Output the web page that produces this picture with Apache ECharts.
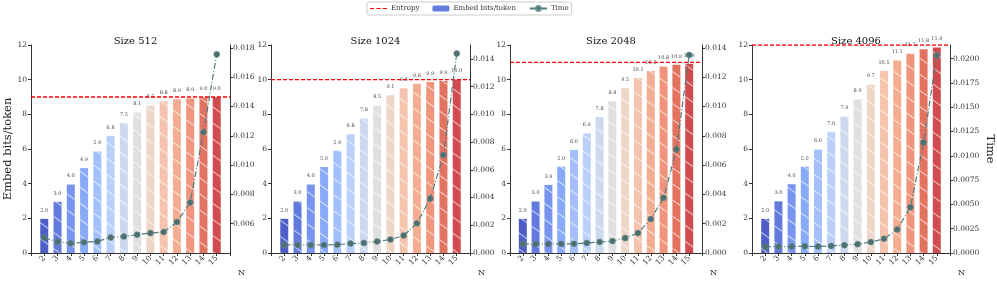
<!DOCTYPE html>
<html><head><meta charset="utf-8">
<script src="https://cdn.jsdelivr.net/npm/echarts@6/dist/echarts.min.js"></script>
<style>html,body{margin:0;padding:0;background:#fff}#c{width:997px;height:283px}</style>
</head><body><div id="c"></div>
<script>
const N = [2,3,4,5,6,7,8,9,10,11,12,13,14,15];
const titles = ['Size 512','Size 1024','Size 2048','Size 4096'];
const entropy = [9, 10, 11, 12];
const bits512  = [1.97,2.95,3.95,4.90,5.86,6.76,7.50,8.10,8.50,8.76,8.87,8.92,8.97,8.99];
const bits1024 = [1.97,2.97,3.95,4.96,5.90,6.85,7.76,8.50,9.10,9.50,9.76,9.87,9.93,10.0];
const bits2048 = [1.97,2.97,3.93,4.97,5.95,6.90,7.85,8.76,9.50,10.10,10.50,10.76,10.86,10.92];
const bits4096 = [1.97,2.98,3.97,4.97,5.96,6.96,7.88,8.86,9.71,10.50,11.10,11.50,11.76,11.86];
const time512  = [0.00504,0.00477,0.00466,0.00474,0.00479,0.00506,0.00513,0.00525,0.00536,0.00543,0.00611,0.00745,0.01225,0.01756];
const time1024 = [0.00058,0.00058,0.00058,0.00058,0.00060,0.00068,0.00073,0.00083,0.00097,0.00126,0.00214,0.00392,0.00706,0.01438];
const time2048 = [0.00061,0.00061,0.00061,0.00062,0.00063,0.00068,0.00075,0.00082,0.00102,0.00136,0.00232,0.00377,0.00707,0.01352];
const time4096 = [0.00063,0.00066,0.00066,0.00070,0.00066,0.00073,0.00080,0.00091,0.00112,0.00146,0.00243,0.00470,0.01137,0.02035];
const timeTicks = [
  {min:0.004, max:0.0182, interval:0.002, dec:3, showMin:false},
  {min:0, max:0.015, interval:0.002, dec:3, showMin:true},
  {min:0, max:0.0142, interval:0.002, dec:3, showMin:true},
  {min:0, max:0.0214, interval:0.0025, dec:4, showMin:true}
];
const bits = [bits512, bits1024, bits2048, bits4096];
const times = [time512, time1024, time2048, time4096];

const colors = ['#3b4cc0','#516bd8','#6889ed','#7ca1f8','#99b9fd','#b2cbfa','#c8d5ed','#dddddd','#ebd2c2','#f5bda4','#f4a485','#ee886e','#e06450','#cc383c'];
const grids = [
  {left:31, width:199},
  {left:271, width:199},
  {left:510, width:192},
  {left:752, width:198}
];
const FONT = 'DejaVu Serif';
const axisCol = '#333';
const hatch = {symbol:'rect', symbolSize:1, dashArrayX:[[1,0]], dashArrayY:[1,12], rotation:Math.PI/5, color:'rgba(255,255,255,0.75)'};

const option = {
  animation:false,
  textStyle:{fontFamily:FONT},
  legend:{
    top:2, left:367, orient:'horizontal',
    borderColor:'#ccc', borderWidth:1, borderRadius:2, padding:[3,3],
    itemGap:13, itemWidth:17, itemHeight:6,
    textStyle:{fontFamily:FONT, fontSize:7, color:'#333', padding:[0,0,0,-1]},
    data:[{name:'Entropy', icon:'path://M0,0L4,0L4,1L0,1ZM6,0L10,0L10,1L6,1ZM12,0L16,0L16,1L12,1Z', itemStyle:{color:'#ff0000'}},{name:'Embed bits/token'},{name:'Time'}]
  },
  title: titles.map((t,i)=>({
    text:t, left:grids[i].left+grids[i].width/2, top:31, textAlign:'center',
    textStyle:{fontFamily:FONT, fontSize:10, fontWeight:'normal', color:'#111'}
  })),
  grid: grids.map(g=>({left:g.left, width:g.width, top:45, height:208})),
  xAxis: grids.map((g,i)=>({
    type:'value', gridIndex:i, min:1, max:16, interval:1,
    name:'N', nameLocation:'end', nameGap:8,
    nameTextStyle:{fontFamily:FONT, fontSize:8, color:'#222', verticalAlign:'top', padding:[16,0,0,0]},
    axisLine:{show:true, lineStyle:{color:axisCol, width:1}},
    axisTick:{show:true, length:3, lineStyle:{color:axisCol}},
    splitLine:{show:false},
    axisLabel:{rotate:45, fontSize:7.5, color:'#333', margin:4,
      formatter:v=> (v>=2 && v<=15) ? String(v) : ''}
  })),
  yAxis: [],
  series: []
};

for (let i=0;i<4;i++){
  option.yAxis.push({
    type:'value', gridIndex:i, position:'left', min:0, max:12, interval:2,
    name: i===0 ? 'Embed bits/token' : '', nameLocation:'middle', nameGap:10,
    nameTextStyle:{fontFamily:FONT, fontSize:11.5, color:'#222'},
    axisLine:{show:true, lineStyle:{color:axisCol, width:1}},
    axisTick:{show:true, length:3, lineStyle:{color:axisCol}},
    splitLine:{show:false},
    axisLabel:{fontSize:7.5, color:'#333', margin:4}
  });
  const tt = timeTicks[i];
  option.yAxis.push({
    type:'value', gridIndex:i, position:'right', min:tt.min, max:tt.max, interval:tt.interval,
    name: i===3 ? 'Time' : '', nameLocation:'middle', nameGap:34, nameRotate:-90,
    nameTextStyle:{fontFamily:FONT, fontSize:11.5, color:'#222'},
    axisLine:{show:true, lineStyle:{color:axisCol, width:1}},
    axisTick:{show:true, length:3, lineStyle:{color:axisCol}},
    splitLine:{show:false},
    axisLabel:{fontSize:7.5, color:'#333', margin:3, showMinLabel:tt.showMin, showMaxLabel:false,
      formatter:v=>v.toFixed(tt.dec)}
  });
  option.series.push({
    name:'Embed bits/token', type:'bar', xAxisIndex:i, yAxisIndex:2*i, barWidth:8,
    itemStyle:{color:'#5470dc', opacity:0.9},
    label:{show:true, position:'top', distance:6, fontSize:5, color:'#333', fontFamily:FONT,
      formatter:p=>p.value[1].toFixed(1)},
    data: N.map((n,k)=>({value:[n, bits[i][k]], itemStyle:{color:colors[k], opacity:0.9, decal:hatch}})),
    z:2
  });
  option.series.push({
    name:'Entropy', type:'line', xAxisIndex:i, yAxisIndex:2*i, symbol:'none', showSymbol:false, silent:true,
    lineStyle:{color:'#ff0000', type:[4,2], width:1.3},
    itemStyle:{color:'#ff0000'},
    data:[[1, entropy[i]],[16, entropy[i]]], z:4
  });
  option.series.push({
    name:'Time', type:'line', xAxisIndex:i, yAxisIndex:2*i+1, symbol:'circle', symbolSize:6,
    lineStyle:{color:'#4f7c7c', type:[6,2,1,2], width:1.2},
    itemStyle:{color:'#4c7070', borderColor:'#6f9090', borderWidth:0.5},
    data: N.map((n,k)=>[n, times[i][k]]), z:5
  });
}

const chart = echarts.init(document.getElementById('c'), null, {renderer:'canvas'});
chart.setOption(option);
</script></body></html>
